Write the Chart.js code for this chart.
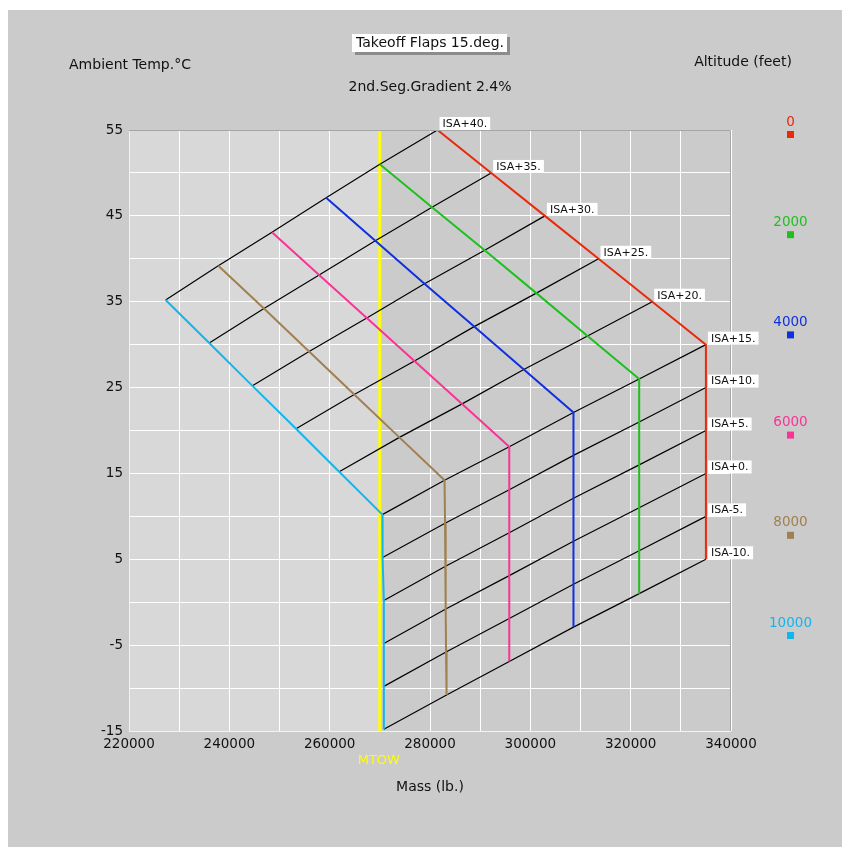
<!DOCTYPE html>
<html>
<head>
<meta charset="utf-8">
<script src="https://cdn.jsdelivr.net/npm/chart.js@4"></script>
<style>
  html, body { margin: 0; padding: 0; background: #ffffff; }
  #c { display: block; }
</style>
</head>
<body>
<canvas id="c" width="842" height="847"></canvas>
<script>
// Pressure altitudes (feet) and their line colours
const altitudes = [0, 2000, 4000, 6000, 8000, 10000];
const altitudeColors = ['#e8290c', '#1ec01e', '#1030e0', '#fa3396', '#a08050', '#12b6ec'];

// ISA temperature deviations, one black line each
const isaDeviations = [40, 35, 30, 25, 20, 15, 10, 5, 0, -5, -10];
const isaLabels = ['ISA+40.', 'ISA+35.', 'ISA+30.', 'ISA+25.', 'ISA+20.', 'ISA+15.',
                   'ISA+10.', 'ISA+5.', 'ISA+0.', 'ISA-5.', 'ISA-10.'];

// Standard-day temperature (°C) at each altitude
const isaBaseTemp = [15, 11.0, 7.1, 3.1, -0.8, -4.8];

// Limiting takeoff mass (lb.) per altitude, ordered ISA+40 ... ISA-10
const massAlt0     = [281500, 292200, 302900, 313600, 324300, 335000, 335000, 335000, 335000, 335000, 335000];
const massAlt2000  = [270000, 280400, 290900, 301200, 311400, 321700, 321700, 321700, 321700, 321700, 321700];
const massAlt4000  = [259300, 269100, 278900, 288800, 298700, 308600, 308600, 308600, 308600, 308600, 308600];
const massAlt6000  = [248500, 257900, 267400, 276900, 286400, 295800, 295800, 295800, 295800, 295800, 295800];
const massAlt8000  = [237800, 246900, 255900, 264900, 273900, 282900, 283000, 283100, 283150, 283200, 283300];
const massAlt10000 = [227300, 236000, 244600, 253300, 261900, 270500, 270550, 270800, 270800, 270800, 270800];
const massByAltitude = [massAlt0, massAlt2000, massAlt4000, massAlt6000, massAlt8000, massAlt10000];

// Maximum takeoff weight
const mtow = 270000;

// Axis ranges and tick labels
const massMin = 220000, massMax = 340000, massStep = 10000;
const massTickLabels = [220000, 240000, 260000, 280000, 300000, 320000, 340000];
const tempMin = -15, tempMax = 55, tempStep = 5;
const tempTickLabels = [55, 45, 35, 25, 15, 5, -5, -15];

const FONT = '"DejaVu Sans", "Liberation Sans", sans-serif';

// Altitude lines: mass vs. temperature for every ISA deviation
const altitudeDatasets = altitudes.map((alt, i) => ({
  label: String(alt),
  data: isaDeviations.map((d, j) => ({ x: massByAltitude[i][j], y: isaBaseTemp[i] + d })),
  borderColor: altitudeColors[i],
  borderWidth: 2,
  order: 0
}));

// ISA lines: join the same deviation across altitudes
const isaDatasets = isaDeviations.map((d, j) => ({
  label: isaLabels[j],
  data: altitudes.map((alt, i) => ({ x: massByAltitude[i][j], y: isaBaseTemp[i] + d })),
  borderColor: '#000000',
  borderWidth: 1.2,
  order: 1
}));

const mtowDataset = {
  label: 'MTOW',
  data: [{ x: mtow, y: tempMin }, { x: mtow, y: tempMax }],
  borderColor: '#ffff00',
  borderWidth: 3,
  order: 2
};

function text(ctx, str, x, y, opts) {
  ctx.save();
  ctx.font = (opts.size || 14) + 'px ' + FONT;
  ctx.fillStyle = opts.color || '#111111';
  ctx.textAlign = opts.align || 'center';
  ctx.textBaseline = 'middle';
  ctx.fillText(str, x, y);
  ctx.restore();
}

const backdrop = {
  id: 'backdrop',
  beforeDraw(chart) {
    const { ctx, chartArea: a, scales } = chart;
    ctx.save();
    ctx.fillStyle = '#ffffff';
    ctx.fillRect(0, 0, chart.width, chart.height);
    ctx.fillStyle = '#cbcbcb';
    ctx.fillRect(8, 10, chart.width - 8, chart.height - 10);
    const xm = scales.x.getPixelForValue(mtow);
    ctx.fillStyle = '#d8d8d8';
    ctx.fillRect(a.left, a.top, xm - a.left, a.bottom - a.top);
    ctx.restore();
  }
};

const annotations = {
  id: 'annotations',
  afterDraw(chart) {
    const { ctx, chartArea: a, scales } = chart;
    const xs = scales.x, ys = scales.y;

    // frame of the plotting area
    ctx.save();
    ctx.lineWidth = 1;
    ctx.strokeStyle = '#f2f2f2';
    ctx.beginPath();
    ctx.moveTo(a.left + 0.5, a.top); ctx.lineTo(a.left + 0.5, a.bottom + 0.5);
    ctx.lineTo(a.right, a.bottom + 0.5);
    ctx.stroke();
    ctx.strokeStyle = '#a6a6a6';
    ctx.beginPath();
    ctx.moveTo(a.left, a.top + 0.5); ctx.lineTo(a.right - 0.5, a.top + 0.5);
    ctx.lineTo(a.right - 0.5, a.bottom);
    ctx.stroke();
    ctx.restore();

    // ISA deviation tags on the sea-level boundary
    ctx.save();
    ctx.font = '11px ' + FONT;
    ctx.textBaseline = 'middle';
    isaDeviations.forEach((d, j) => {
      const px = xs.getPixelForValue(massAlt0[j]);
      const py = ys.getPixelForValue(isaBaseTemp[0] + d);
      const w = ctx.measureText(isaLabels[j]).width + 6;
      ctx.fillStyle = '#ffffff';
      ctx.fillRect(px + 2, py - 13, w, 13);
      ctx.fillStyle = '#111111';
      ctx.fillText(isaLabels[j], px + 5, py - 6);
    });
    ctx.restore();

    // title box with drop shadow
    ctx.save();
    ctx.fillStyle = '#8c8c8c';
    ctx.fillRect(355, 37, 155, 18);
    ctx.fillStyle = '#ffffff';
    ctx.fillRect(352, 34, 155, 18);
    ctx.restore();
    text(ctx, 'Takeoff Flaps 15.deg.', 430, 43.5, { size: 14 });

    text(ctx, 'Ambient Temp.°C', 130, 65, { size: 14 });
    text(ctx, 'Altitude (feet)', 743, 62, { size: 14 });
    text(ctx, '2nd.Seg.Gradient 2.4%', 430, 87, { size: 14 });
    text(ctx, 'Mass (lb.)', 430, 787, { size: 14 });
    text(ctx, 'MTOW', xs.getPixelForValue(mtow) - 1, 761, { size: 13, color: '#ffff00' });

    // altitude key
    altitudes.forEach((alt, i) => {
      const cy = 122 + i * 100.2;
      text(ctx, String(alt), 790.5, cy, { size: 13.5, color: altitudeColors[i] });
      ctx.fillStyle = altitudeColors[i];
      ctx.fillRect(787, cy + 9, 7, 7);
    });
  }
};

new Chart(document.getElementById('c'), {
  type: 'scatter',
  data: { datasets: [...altitudeDatasets, ...isaDatasets, mtowDataset] },
  options: {
    responsive: false,
    animation: false,
    showLine: true,
    layout: { padding: { top: 130, right: 111, bottom: 0, left: 0 } },
    elements: { point: { radius: 0, hoverRadius: 0 }, line: { tension: 0, fill: false } },
    plugins: { legend: { display: false }, tooltip: { enabled: false }, title: { display: false } },
    scales: {
      x: {
        type: 'linear', min: massMin, max: massMax,
        afterFit(s) { s.height = 116; },
        border: { display: false },
        grid: { color: '#ffffff', lineWidth: 1, drawTicks: false },
        ticks: {
          stepSize: massStep, autoSkip: false, maxRotation: 0, padding: 5,
          color: '#111111', font: { family: FONT, size: 13.5 },
          callback: v => massTickLabels.includes(v) ? String(v) : ''
        }
      },
      y: {
        type: 'linear', min: tempMin, max: tempMax,
        afterFit(s) { s.width = 129; },
        border: { display: false },
        grid: { color: '#ffffff', lineWidth: 1, drawTicks: false },
        ticks: {
          stepSize: tempStep, autoSkip: false, padding: 6,
          color: '#111111', font: { family: FONT, size: 13.5 },
          callback: v => tempTickLabels.includes(v) ? String(v) : ''
        }
      }
    }
  },
  plugins: [backdrop, annotations]
});
</script>
</body>
</html>
